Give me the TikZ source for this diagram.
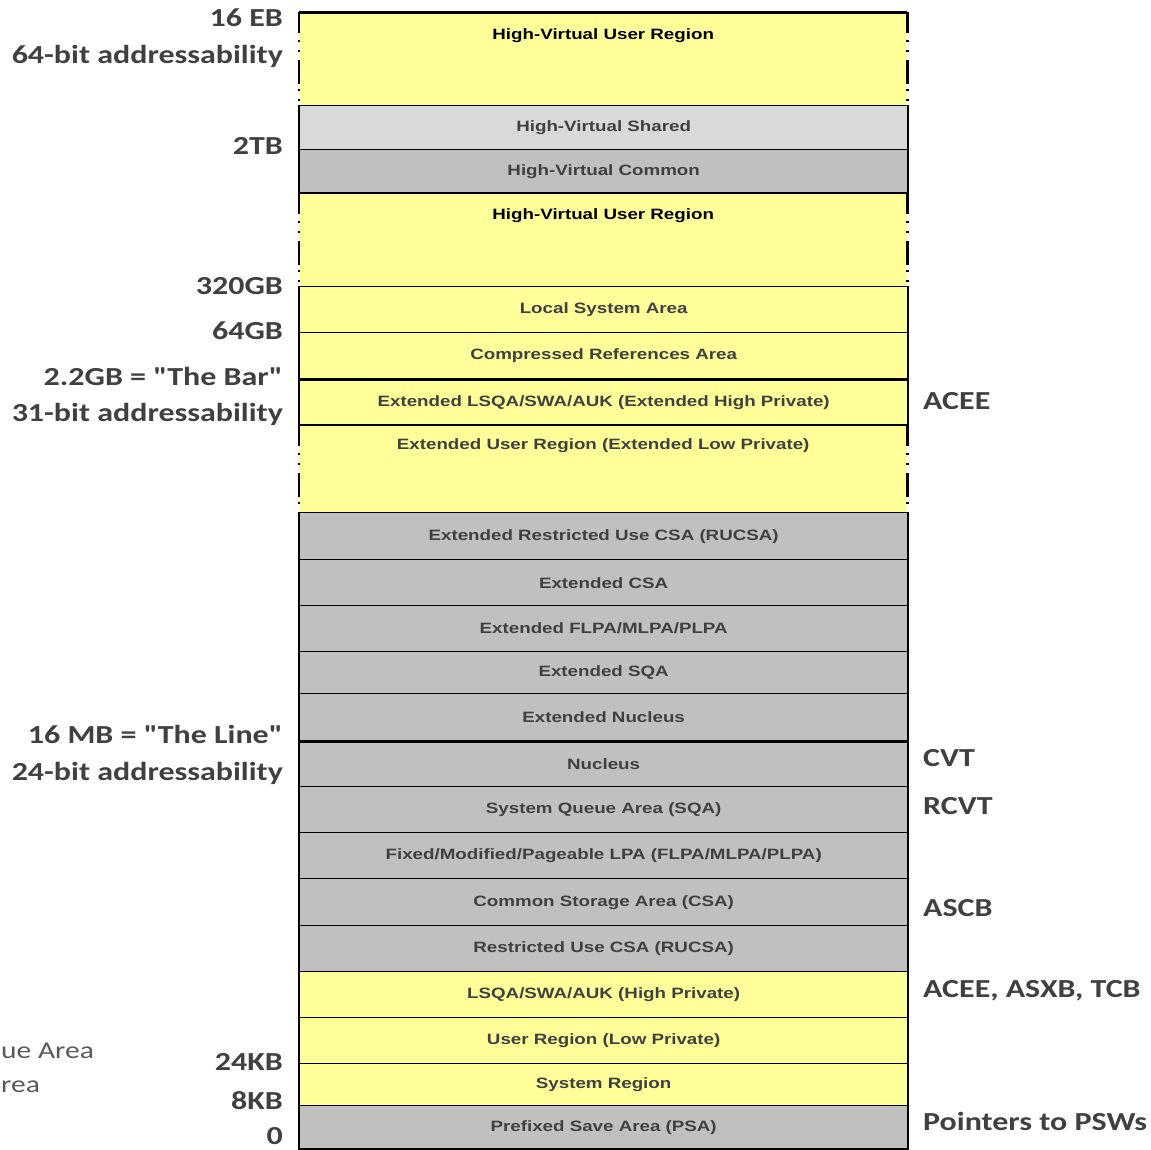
\documentclass[tikz,border=0pt]{standalone}
\usepackage{fontspec}
\usepackage{tikz}
\usetikzlibrary{positioning}
\newfontfamily\arialfont[FakeStretch=1.25]{Liberation Sans}
\newfontfamily\calibrifont[FakeStretch=1.23]{Carlito}
\definecolor{regionyellow}{HTML}{FFFF99}
\definecolor{sharedgrey}{HTML}{D9D9D9}
\definecolor{commongrey}{HTML}{C0C0C0}
\definecolor{labelgrey}{HTML}{404040}
\definecolor{notegrey}{HTML}{595959}
\tikzset{
	block/.style={draw, line width=1.3pt, minimum width=608pt, inner sep=0pt, anchor=north west},
	openblock/.style={minimum width=608pt, inner sep=0pt, anchor=north west},
	private/.style={fill=regionyellow},
	shared/.style={fill=sharedgrey},
	common/.style={fill=commongrey},
	boxtext/.style={font=\arialfont\bfseries\fontsize{15}{17}\selectfont, text=labelgrey, inner sep=0pt},
	addr/.style={font=\calibrifont\bfseries\fontsize{26}{30}\selectfont, text=labelgrey, anchor=east, inner sep=0pt},
	owner/.style={font=\calibrifont\bfseries\fontsize{26}{30}\selectfont, text=labelgrey, anchor=west, inner sep=0pt},
	note/.style={font=\calibrifont\fontsize{24}{28}\selectfont, text=notegrey, anchor=west, inner sep=0pt},
	openside/.style={line width=2.4pt, dash pattern=on 21pt off 7pt on 2pt off 8pt on 2pt off 8pt on 24pt off 5pt on 2pt off 8pt on 2pt off 8pt},
	frame/.style={line width=2pt},
	bar/.style={line width=3pt}
}
\begin{document}
\begin{tikzpicture}[x=1pt, y=1pt]
		\useasboundingbox (0,0) rectangle (1151,-1149);
		
		% 64-bit area
		\node[openblock, private, minimum height=93pt] (hvuserhigh) at (299,-12) {};
		\node[boxtext, text=black] at ([yshift=-24pt]hvuserhigh.north) {High-Virtual User Region};
		\node[block, shared, minimum height=44pt] (hvshared) at (299,-105) {};
		\node[boxtext] at (hvshared) {High-Virtual Shared};
		\node[block, common, minimum height=44pt] (hvcommon) at (299,-149) {};
		\node[boxtext] at (hvcommon) {High-Virtual Common};
		\node[openblock, private, minimum height=93pt] (hvuserlow) at (299,-193) {};
		\node[boxtext, text=black] at ([yshift=-23pt]hvuserlow.north) {High-Virtual User Region};
		\node[block, private, minimum height=46pt] (lsa) at (299,-286) {};
		\node[boxtext] at (lsa) {Local System Area};
		\node[block, private, minimum height=46pt] (cra) at (299,-332) {};
		\node[boxtext] at (cra) {Compressed References Area};
		
		% 31-bit area
		\node[block, private, minimum height=47pt] (exthigh) at (299,-378) {};
		\node[boxtext] at (exthigh) {Extended LSQA/SWA/AUK (Extended High Private)};
		\node[openblock, private, minimum height=87pt] (extuser) at (299,-425) {};
		\node[boxtext] at ([yshift=-21pt]extuser.north) {Extended User Region (Extended Low Private)};
		\node[block, common, minimum height=47pt] (extrucsa) at (299,-512) {};
		\node[boxtext] at (extrucsa) {Extended Restricted Use CSA (RUCSA)};
		\node[block, common, minimum height=46pt] (extcsa) at (299,-559) {};
		\node[boxtext] at (extcsa) {Extended CSA};
		\node[block, common, minimum height=46pt] (extlpa) at (299,-605) {};
		\node[boxtext] at (extlpa) {Extended FLPA/MLPA/PLPA};
		\node[block, common, minimum height=42pt] (extsqa) at (299,-651) {};
		\node[boxtext] at (extsqa) {Extended SQA};
		\node[block, common, minimum height=47pt] (extnuc) at (299,-693) {};
		\node[boxtext] at (extnuc) {Extended Nucleus};
		
		% 24-bit area
		\node[block, common, minimum height=46pt] (nuc) at (299,-740) {};
		\node[boxtext] at (nuc) {Nucleus};
		\node[block, common, minimum height=46pt] (sqa) at (299,-786) {};
		\node[boxtext] at (sqa) {System Queue Area (SQA)};
		\node[block, common, minimum height=46pt] (lpa) at (299,-832) {};
		\node[boxtext] at (lpa) {Fixed/Modified/Pageable LPA (FLPA/MLPA/PLPA)};
		\node[block, common, minimum height=47pt] (csa) at (299,-878) {};
		\node[boxtext] at (csa) {Common Storage Area (CSA)};
		\node[block, common, minimum height=46pt] (rucsa) at (299,-925) {};
		\node[boxtext] at (rucsa) {Restricted Use CSA (RUCSA)};
		\node[block, private, minimum height=46pt] (lsqa) at (299,-971) {};
		\node[boxtext] at (lsqa) {LSQA/SWA/AUK (High Private)};
		\node[block, private, minimum height=46pt] (user) at (299,-1017) {};
		\node[boxtext] at (user) {User Region (Low Private)};
		\node[block, private, minimum height=42pt] (sysreg) at (299,-1063) {};
		\node[boxtext] at (sysreg) {System Region};
		\node[block, common, minimum height=43pt] (psa) at (299,-1105) {};
		\node[boxtext] at (psa) {Prefixed Save Area (PSA)};
		
		% open-ended sides
		\draw[openside] (hvuserhigh.north west) -- (hvuserhigh.south west);
		\draw[openside] (hvuserhigh.north east) -- (hvuserhigh.south east);
		\draw[openside] (hvuserlow.north west) -- (hvuserlow.south west);
		\draw[openside] (hvuserlow.north east) -- (hvuserlow.south east);
		\draw[openside] (extuser.north west) -- (extuser.south west);
		\draw[openside] (extuser.north east) -- (extuser.south east);
		\draw[line width=1.3pt] (hvuserlow.north west) -- (hvuserlow.north east);
		\draw[line width=1.3pt] (extuser.north west) -- (extuser.north east);
		
		% outer frame
		\draw[frame] (hvshared.north west) -- (hvcommon.south west);
		\draw[frame] (hvshared.north east) -- (hvcommon.south east);
		\draw[frame] (lsa.north west) -- (exthigh.south west);
		\draw[frame] (lsa.north east) -- (exthigh.south east);
		\draw[frame] (extrucsa.north west) -- (psa.south west) -- (psa.south east) -- (extrucsa.north east);
		
		% top, bar and line
		\draw[bar] (hvuserhigh.north west) -- (hvuserhigh.north east);
		\draw[bar] (cra.south west) -- (cra.south east);
		\draw[bar] (extnuc.south west) -- (extnuc.south east);
		
		% Addresses
		\node[addr] (eb) at (283,-18) {16 EB};
		\node[addr] (bit64) at (283,-56) {64-bit addressability};
		\node[addr] (tb) at (283,-146) {2TB};
		\node[addr] (gb320) at (283,-286) {320GB};
		\node[addr] (gb64) at (283,-331) {64GB};
		\node[addr] (thebar) at (283,-376) {2.2GB = "The Bar"};
		\node[addr] (bit31) at (283,-414) {31-bit addressability};
		\node[addr] (theline) at (283,-734) {16 MB = "The Line"};
		\node[addr] (bit24) at (283,-773) {24-bit addressability};
		\node[addr] (kb24) at (283,-1062) {24KB};
		\node[addr] (kb8) at (283,-1101) {8KB};
		\node[addr] (zero) at (283,-1136) {0};
		
		% Control blocks
		\node[owner] (acee) at (923,-401) {ACEE};
		\node[owner] (cvt) at (923,-758) {CVT};
		\node[owner] (rcvt) at (923,-806) {RCVT};
		\node[owner] (ascb) at (923,-908) {ASCB};
		\node[owner] (tcb) at (923,-991) {ACEE, ASXB, TCB};
		\node[owner] (psw) at (923,-1121) {Pointers to PSWs};
		
		% cut-off legend
		\node[note] (legend1) at (1,-1051) {ue Area};
		\node[note] (legend2) at (1,-1087) {rea};
	\end{tikzpicture}
\end{document}
